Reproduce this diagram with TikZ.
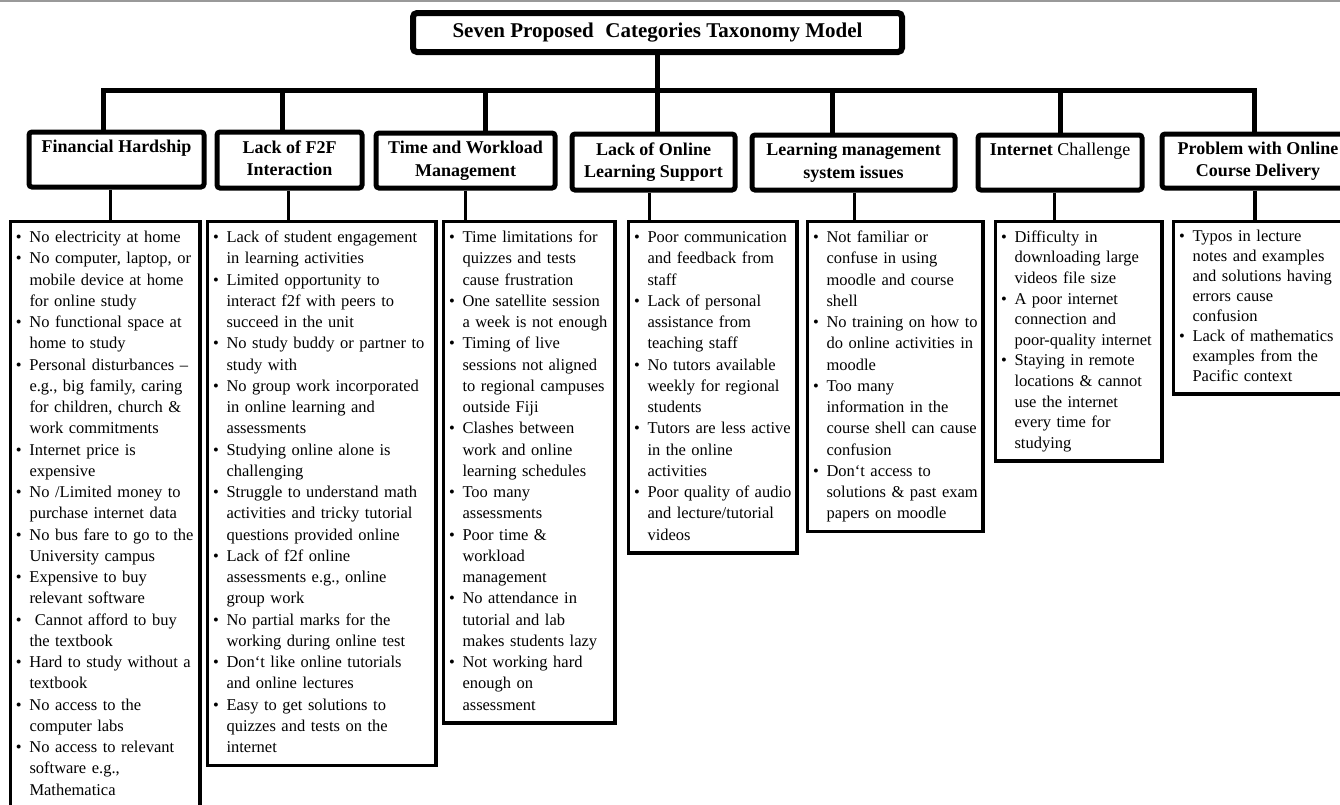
\documentclass[tikz,border=0pt]{standalone}
\usepackage{fontspec}
\setmainfont{Liberation Serif}
\newcommand\bu[1]{\mbox{\strut\makebox[11pt][l]{\hspace{-2.5pt}\textbullet}#1}}
\newcommand\co[1]{\mbox{\strut\hspace*{11pt}#1}}
\newcommand\hl[1]{\strut #1}
\begin{document}
\begin{tikzpicture}[x=1pt,y=-1pt,
  titlebox/.style={draw, line width=6pt, rounded corners=4pt, inner sep=2pt, minimum width=489pt, minimum height=39pt, font=\bfseries\fontsize{21}{25}\selectfont},
  headbox/.style={draw, line width=5pt, rounded corners=3pt, anchor=north west, align=center, inner sep=2pt, font=\bfseries\fontsize{18}{22.5}\selectfont},
  detbox/.style={draw, line width=3.5pt, anchor=north west, align=left, inner xsep=8pt, inner ysep=6.35pt, font=\fontsize{16.5}{21.25}\selectfont},
  trunk/.style={line width=5pt},
  branch/.style={line width=3.3pt}]
\useasboundingbox (0,0) rectangle (1340,804);
\fill[white] (0,0) rectangle (1340,804);
\draw[gray!80, line width=2pt] (0,1) -- (1340,1);

\node[titlebox] (title) at (657.5,32.5) {Seven Proposed\hspace{0.55em}Categories Taxonomy Model};

\node[headbox, minimum width=175pt, minimum height=55pt] (h1) at (26.5,129.5) {\hl{Financial Hardship}\\\hl{}};
\node[headbox, minimum width=145pt, minimum height=56pt] (h2) at (214.5,129.5) {\hl{Lack of F2F}\\\hl{Interaction}};
\node[headbox, minimum width=179pt, minimum height=55pt] (h3) at (373.5,130.5) {\hl{Time and Workload}\\\hl{Management}};
\node[headbox, minimum width=163pt, minimum height=56pt] (h4) at (569.5,131.5) {\hl{Lack of Online}\\\hl{Learning Support}};
\node[headbox, minimum width=203pt, minimum height=55pt] (h5) at (749.5,132.5) {\hl{Learning management}\\\hl{system issues}};
\node[headbox, minimum width=164pt, minimum height=55pt] (h6) at (975.5,132.5) {\hl{Internet \mdseries Challenge}\\\hl{}};
\node[headbox, minimum width=192pt, minimum height=54pt] (h7) at (1159.5,131.5) {\hl{Problem with Online}\\\hl{Course Delivery}};

\node[detbox, text width=173.5pt] (d1) at (8.75,219.75) {%
\bu{No electricity at home}\\
\bu{No computer, laptop, or}\\
\co{mobile device at home}\\
\co{for online study}\\
\bu{No functional space at}\\
\co{home to study}\\
\bu{Personal disturbances --}\\
\co{e.g., big family, caring}\\
\co{for children, church \&}\\
\co{work commitments}\\
\bu{Internet price is}\\
\co{expensive}\\
\bu{No /Limited money to}\\
\co{purchase internet data}\\
\bu{No bus fare to go to the}\\
\co{University campus}\\
\bu{Expensive to buy}\\
\co{relevant software}\\
\bu{\ Cannot afford to buy}\\
\co{the textbook}\\
\bu{Hard to study without a}\\
\co{textbook}\\
\bu{No access to the}\\
\co{computer labs}\\
\bu{No access to relevant}\\
\co{software e.g.,}\\
\co{Mathematica}\\
\co{}};

\node[detbox, text width=212.5pt] (d2) at (205.75,219.75) {%
\bu{Lack of student engagement}\\
\co{in learning activities}\\
\bu{Limited opportunity to}\\
\co{interact f2f with peers to}\\
\co{succeed in the unit}\\
\bu{No study buddy or partner to}\\
\co{study with}\\
\bu{No group work incorporated}\\
\co{in online learning and}\\
\co{assessments}\\
\bu{Studying online alone is}\\
\co{challenging}\\
\bu{Struggle to understand math}\\
\co{activities and tricky tutorial}\\
\co{questions provided online}\\
\bu{Lack of f2f online}\\
\co{assessments e.g., online}\\
\co{group work}\\
\bu{No partial marks for the}\\
\co{working during online test}\\
\bu{Don`t like online tutorials}\\
\co{and online lectures}\\
\bu{Easy to get solutions to}\\
\co{quizzes and tests on the}\\
\co{internet}};

\node[detbox, text width=155.5pt] (d3) at (441.75,219.75) {%
\bu{Time limitations for}\\
\co{quizzes and tests}\\
\co{cause frustration}\\
\bu{One satellite session}\\
\co{a week is not enough}\\
\bu{Timing of live}\\
\co{sessions not aligned}\\
\co{to regional campuses}\\
\co{outside Fiji}\\
\bu{Clashes between}\\
\co{work and online}\\
\co{learning schedules}\\
\bu{Too many}\\
\co{assessments}\\
\bu{Poor time \&}\\
\co{workload}\\
\co{management}\\
\bu{No attendance in}\\
\co{tutorial and lab}\\
\co{makes students lazy}\\
\bu{Not working hard}\\
\co{enough on}\\
\co{assessment}};

\node[detbox, text width=152.5pt] (d4) at (626.75,219.75) {%
\bu{Poor communication}\\
\co{and feedback from}\\
\co{staff}\\
\bu{Lack of personal}\\
\co{assistance from}\\
\co{teaching staff}\\
\bu{No tutors available}\\
\co{weekly for regional}\\
\co{students}\\
\bu{Tutors are less active}\\
\co{in the online}\\
\co{activities}\\
\bu{Poor quality of audio}\\
\co{and lecture/tutorial}\\
\co{videos}};

\node[detbox, text width=159.5pt] (d5) at (805.75,219.75) {%
\bu{Not familiar or}\\
\co{confuse in using}\\
\co{moodle and course}\\
\co{shell}\\
\bu{No training on how to}\\
\co{do online activities in}\\
\co{moodle}\\
\bu{Too many}\\
\co{information in the}\\
\co{course shell can cause}\\
\co{confusion}\\
\bu{Don`t access to}\\
\co{solutions \& past exam}\\
\co{papers on moodle}};

\node[detbox, text width=150.5pt, font=\fontsize{16.5}{20.6}\selectfont] (d6) at (993.75,219.75) {%
\bu{Difficulty in}\\
\co{downloading large}\\
\co{videos file size}\\
\bu{A poor internet}\\
\co{connection and}\\
\co{poor-quality internet}\\
\bu{Staying in remote}\\
\co{locations \& cannot}\\
\co{use the internet}\\
\co{every time for}\\
\co{studying}};

\node[detbox, text width=154pt, font=\fontsize{16.5}{20}\selectfont] (d7) at (1171.75,219.75) {%
\bu{Typos in lecture}\\
\co{notes and examples}\\
\co{and solutions having}\\
\co{errors cause}\\
\co{confusion}\\
\bu{Lack of mathematics}\\
\co{examples from the}\\
\co{Pacific context}};

\coordinate (bus) at (657.5,90);
\draw[trunk] (title.south) -- (title.south |- h4.north);
\draw[trunk, line cap=rect] ([xshift=-13pt]h1.north |- bus) -- ([xshift=-4pt]h7.north |- bus);
\draw[trunk] ([xshift=-13pt]h1.north) -- ([xshift=-13pt]h1.north |- bus);
\draw[trunk] ([xshift=-7pt]h2.north) -- ([xshift=-7pt]h2.north |- bus);
\draw[trunk] ([xshift=20pt]h3.north) -- ([xshift=20pt]h3.north |- bus);
\draw[trunk] ([xshift=-21pt]h5.north) -- ([xshift=-21pt]h5.north |- bus);
\draw[trunk] (h6.north) -- (h6.north |- bus);
\draw[trunk] ([xshift=-4pt]h7.north) -- ([xshift=-4pt]h7.north |- bus);

\draw[branch] ([xshift=-6pt]h1.south) -- ([xshift=-6pt]h1.south |- d1.north);
\draw[branch] ([xshift=-1pt]h2.south) -- ([xshift=-1pt]h2.south |- d2.north);
\draw[branch] (h3.south) -- (h3.south |- d3.north);
\draw[branch] ([xshift=-4pt]h4.south) -- ([xshift=-4pt]h4.south |- d4.north);
\draw[branch] ([xshift=1pt]h5.south) -- ([xshift=1pt]h5.south |- d5.north);
\draw[branch] ([xshift=-5.5pt]h6.south) -- ([xshift=-5.5pt]h6.south |- d6.north);
\draw[branch] ([xshift=-3pt]h7.south) -- ([xshift=-3pt]h7.south |- d7.north);
\end{tikzpicture}
\end{document}
